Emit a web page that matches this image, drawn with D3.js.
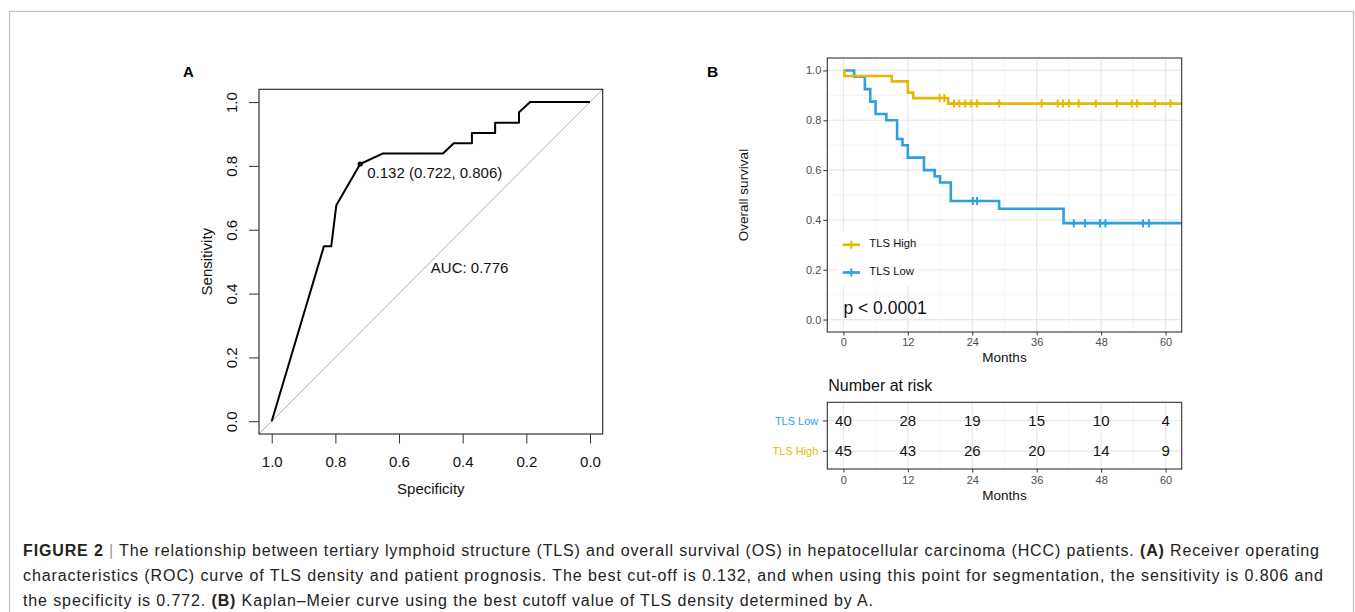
<!DOCTYPE html>
<html>
<head>
<meta charset="utf-8">
<script src="https://cdn.jsdelivr.net/npm/d3@7"></script>
<style>
  html, body { margin: 0; padding: 0; background: #fff; }
  svg { display: block; font-family: "Liberation Sans", Arial, sans-serif; }
</style>
</head>
<body>
<svg id="fig" width="1355" height="612"></svg>
<script>
/* ---------- data ---------- */
// panel A: ROC curve (specificity, sensitivity)
const rocSpec = [1.0, 0.836, 0.813, 0.797, 0.722, 0.650, 0.462, 0.428, 0.371, 0.371, 0.298, 0.298, 0.223, 0.223, 0.188, 0.0];
const rocSens = [0.0, 0.548, 0.548, 0.677, 0.806, 0.839, 0.839, 0.871, 0.871, 0.903, 0.903, 0.935, 0.935, 0.968, 1.0, 1.0];
const bestCut = { thr: 0.132, spec: 0.722, sens: 0.806 };
const aucValue = 0.776;
const rocTicks = [1.0, 0.8, 0.6, 0.4, 0.2, 0.0];

// panel B: Kaplan-Meier steps
const groups = ['TLS High', 'TLS Low'];
const groupColors = ['#E7B800', '#2E9FDF'];
const highTimes = [0, 0.2, 9, 12, 13, 19.5, 63];
const highSurv  = [1.0, 0.978, 0.956, 0.911, 0.889, 0.867, 0.867];
const lowTimes  = [0, 2, 4, 5, 6, 8, 10, 11, 12, 15, 17, 18, 20, 29, 41, 63];
const lowSurv   = [1.0, 0.975, 0.925, 0.875, 0.825, 0.80, 0.725, 0.70, 0.65, 0.60, 0.575, 0.55, 0.476, 0.445, 0.387, 0.387];
const highCensor = [17.9, 18.8, 20.6, 21.6, 22.7, 23.8, 24.9, 29.0, 36.9, 39.9, 40.9, 42.0, 43.8, 47.0, 50.9, 53.7, 54.7, 58.0, 60.9];
const lowCensor  = [24.1, 24.9, 42.9, 45.0, 47.8, 48.8, 55.8, 56.9];
const monthTicks = [0, 12, 24, 36, 48, 60];
const monthMinor = [6, 18, 30, 42, 54];
const survTicks = [0, 0.2, 0.4, 0.6, 0.8, 1.0];
const survMinor = [0.1, 0.3, 0.5, 0.7, 0.9];
const pText = 'p < 0.0001';

// number at risk
const riskRows = ['TLS Low', 'TLS High'];
const riskRowColors = ['#2E9FDF', '#E7B800'];
const riskLow  = [40, 28, 19, 15, 10, 4];
const riskHigh = [45, 43, 26, 20, 14, 9];

// caption lines: [text, bold, colour]
const captionLines = [
  [['FIGURE 2', true], [' | ', false, '#999'], ['The relationship between tertiary lymphoid structure (TLS) and overall survival (OS) in hepatocellular carcinoma (HCC) patients. ', false], ['(A)', true], [' Receiver operating', false]],
  [['characteristics (ROC) curve of TLS density and patient prognosis. The best cut-off is 0.132, and when using this point for segmentation, the sensitivity is 0.806 and', false]],
  [['the specificity is 0.772. ', false], ['(B)', true], [' Kaplan\u2013Meier curve using the best cutoff value of TLS density determined by A.', false]]
];
const captionWidths = [1296, 1300, 850];

/* ---------- frame ---------- */
const svg = d3.select('#fig');
svg.append('rect')
  .attr('x', 9.5).attr('y', 11.5).attr('width', 1344).attr('height', 700)
  .attr('fill', 'none').attr('stroke', '#c2c2c2').attr('stroke-width', 1.3);

/* ---------- panel A: ROC ---------- */
const A = { l: 259, r: 602.7, t: 89.3, b: 434 };
const xA = d3.scaleLinear().domain([1.04, -0.04]).range([A.l, A.r]);
const yA = d3.scaleLinear().domain([-0.04, 1.04]).range([A.b, A.t]);
const gA = svg.append('g');

svg.append('defs').append('clipPath').attr('id', 'clipA')
  .append('rect').attr('x', A.l).attr('y', A.t).attr('width', A.r - A.l).attr('height', A.b - A.t);

// identity line (sens = 1 - spec)
gA.append('line')
  .attr('clip-path', 'url(#clipA)')
  .attr('x1', xA(1.04)).attr('y1', yA(1 - 1.04))
  .attr('x2', xA(-0.04)).attr('y2', yA(1 + 0.04))
  .attr('stroke', '#b0b0b0').attr('stroke-width', 1);

gA.append('path')
  .datum(rocSpec.map((s, i) => [s, rocSens[i]]))
  .attr('d', d3.line().x(d => xA(d[0])).y(d => yA(d[1])))
  .attr('fill', 'none').attr('stroke', '#000').attr('stroke-width', 2).attr('stroke-linejoin', 'round');

gA.append('circle')
  .attr('cx', xA(bestCut.spec)).attr('cy', yA(bestCut.sens)).attr('r', 2.6).attr('fill', '#000');
gA.append('text')
  .attr('x', xA(bestCut.spec) + 7).attr('y', yA(bestCut.sens) + 14.5)
  .attr('font-size', 15).attr('fill', '#111')
  .text(`${bestCut.thr} (${bestCut.spec.toFixed(3)}, ${bestCut.sens.toFixed(3)})`);
gA.append('text')
  .attr('x', xA(0.5)).attr('y', yA(0.5) + 11.2)
  .attr('font-size', 15).attr('fill', '#111')
  .text('AUC: ' + aucValue.toFixed(3));

gA.append('rect')
  .attr('x', A.l).attr('y', A.t).attr('width', A.r - A.l).attr('height', A.b - A.t)
  .attr('fill', 'none').attr('stroke', '#222').attr('stroke-width', 1.1);

const fmt1 = d3.format('.1f');
const axA_x = gA.append('g').attr('transform', `translate(0,${A.b})`)
  .call(d3.axisBottom(xA).tickValues(rocTicks).tickSize(9.5).tickPadding(12.7).tickFormat(fmt1));
const axA_y = gA.append('g').attr('transform', `translate(${A.l},0)`)
  .call(d3.axisLeft(yA).tickValues(rocTicks.slice().reverse()).tickSize(10).tickFormat(fmt1));
[axA_x, axA_y].forEach(ax => {
  ax.select('.domain').remove();
  ax.selectAll('line').attr('stroke', '#333');
  ax.selectAll('text').attr('font-size', 15).attr('fill', '#111');
  ax.attr('font-family', null).attr('font-size', null);
});
axA_y.selectAll('text')
  .attr('x', null).attr('dy', null).attr('text-anchor', 'middle')
  .attr('transform', 'translate(-21.7,0) rotate(-90)');

gA.append('text').attr('x', (A.l + A.r) / 2).attr('y', 494)
  .attr('text-anchor', 'middle').attr('font-size', 15).attr('fill', '#111').text('Specificity');
gA.append('text').attr('transform', `translate(211.5,${(A.t + A.b) / 2}) rotate(-90)`)
  .attr('text-anchor', 'middle').attr('font-size', 15).attr('fill', '#111').text('Sensitivity');
gA.append('text').attr('x', 183).attr('y', 77).attr('font-size', 15).attr('font-weight', 'bold').text('A');

/* ---------- panel B: Kaplan-Meier ---------- */
const B = { l: 827.3, r: 1181.7, t: 58, b: 332 };
const xB = d3.scaleLinear().domain([-3, 63]).range([B.l, B.r]);
const yB = d3.scaleLinear().domain([-0.05, 1.05]).range([B.b, B.t]);
const gB = svg.append('g');

svg.select('defs').append('clipPath').attr('id', 'clipB')
  .append('rect').attr('x', B.l).attr('y', B.t).attr('width', B.r - B.l).attr('height', B.b - B.t);

// grid
const gridB = gB.append('g');
gridB.selectAll('.vmin').data(monthMinor).join('line')
  .attr('x1', d => xB(d)).attr('x2', d => xB(d)).attr('y1', B.t).attr('y2', B.b)
  .attr('stroke', '#efefef').attr('stroke-width', 0.7);
gridB.selectAll('.hmin').data(survMinor).join('line')
  .attr('y1', d => yB(d)).attr('y2', d => yB(d)).attr('x1', B.l).attr('x2', B.r)
  .attr('stroke', '#efefef').attr('stroke-width', 0.7);
gridB.selectAll('.vmaj').data(monthTicks).join('line')
  .attr('x1', d => xB(d)).attr('x2', d => xB(d)).attr('y1', B.t).attr('y2', B.b)
  .attr('stroke', '#e8e8e8').attr('stroke-width', 1.2);
gridB.selectAll('.hmaj').data(survTicks).join('line')
  .attr('y1', d => yB(d)).attr('y2', d => yB(d)).attr('x1', B.l).attr('x2', B.r)
  .attr('stroke', '#e8e8e8').attr('stroke-width', 1.2);

const stepLine = d3.line().curve(d3.curveStepAfter).x(d => xB(d[0])).y(d => yB(d[1]));
const series = [
  { times: highTimes, surv: highSurv, censor: highCensor, color: groupColors[0] },
  { times: lowTimes, surv: lowSurv, censor: lowCensor, color: groupColors[1] }
];
function survAt(s, t) {
  const i = d3.bisectRight(s.times, t) - 1;
  return s.surv[Math.max(0, i)];
}
const plus = (x, y, h) => `M${x - h},${y}h${2 * h}M${x},${y - h}v${2 * h}`;

const curves = gB.append('g').attr('clip-path', 'url(#clipB)');
// low first, high drawn on top
[series[1], series[0]].forEach(s => {
  curves.append('path')
    .datum(s.times.map((t, i) => [t, s.surv[i]]))
    .attr('d', stepLine)
    .attr('fill', 'none').attr('stroke', s.color).attr('stroke-width', 2.6);
  curves.append('path')
    .attr('d', s.censor.map(t => plus(xB(t), yB(survAt(s, t)), 4)).join(''))
    .attr('fill', 'none').attr('stroke', s.color).attr('stroke-width', 2);
});

// legend
const legY = [244.8, 272.5];
gB.append('rect').attr('x', 838).attr('y', 232).attr('width', 80).attr('height', 54).attr('fill', '#fff');
groups.forEach((g, i) => {
  gB.append('line').attr('x1', 842.7).attr('x2', 860).attr('y1', legY[i]).attr('y2', legY[i])
    .attr('stroke', groupColors[i]).attr('stroke-width', 2.6);
  gB.append('path').attr('d', plus(851.3, legY[i], 4))
    .attr('stroke', groupColors[i]).attr('stroke-width', 2);
  gB.append('text').attr('x', 869.3).attr('y', legY[i] + 2.5)
    .attr('font-size', 11.3).attr('fill', '#111').text(g);
});

gB.append('text').attr('x', xB(0)).attr('y', 314)
  .attr('font-size', 17.5).attr('fill', '#111').text(pText);

gB.append('rect')
  .attr('x', B.l).attr('y', B.t).attr('width', B.r - B.l).attr('height', B.b - B.t)
  .attr('fill', 'none').attr('stroke', '#333').attr('stroke-width', 1.1);

function styleGG(ax) {
  ax.select('.domain').remove();
  ax.attr('font-family', null).attr('font-size', null);
  ax.selectAll('line').attr('stroke', '#333').attr('stroke-width', 1);
  ax.selectAll('text').attr('font-size', 11).attr('fill', '#4d4d4d');
}
styleGG(gB.append('g').attr('transform', `translate(0,${B.b})`)
  .call(d3.axisBottom(xB).tickValues(monthTicks).tickSize(3.5).tickPadding(2.5)));
styleGG(gB.append('g').attr('transform', `translate(${B.l},0)`)
  .call(d3.axisLeft(yB).tickValues(survTicks).tickSize(4).tickPadding(2).tickFormat(fmt1)));

gB.append('text').attr('x', (B.l + B.r) / 2).attr('y', 362)
  .attr('text-anchor', 'middle').attr('font-size', 13.5).attr('fill', '#111').text('Months');
gB.append('text').attr('transform', `translate(748,${(B.t + B.b) / 2}) rotate(-90)`)
  .attr('text-anchor', 'middle').attr('font-size', 13.5).attr('fill', '#111').text('Overall survival');
gB.append('text').attr('x', 707).attr('y', 77).attr('font-size', 15.5).attr('font-weight', 'bold').text('B');

/* ---------- risk table ---------- */
const T = { l: B.l, r: B.r, t: 402.3, b: 469 };
const yT = d3.scalePoint().domain(riskRows).range([T.t, T.b]).padding(0.6);
const gT = svg.append('g');
gT.append('text').attr('x', 828.3).attr('y', 390.5).attr('font-size', 16).attr('fill', '#111').text('Number at risk');

gT.selectAll('.tvmin').data(monthMinor).join('line')
  .attr('x1', d => xB(d)).attr('x2', d => xB(d)).attr('y1', T.t).attr('y2', T.b)
  .attr('stroke', '#efefef').attr('stroke-width', 0.7);
gT.selectAll('.tvmaj').data(monthTicks).join('line')
  .attr('x1', d => xB(d)).attr('x2', d => xB(d)).attr('y1', T.t).attr('y2', T.b)
  .attr('stroke', '#e8e8e8').attr('stroke-width', 1.2);
gT.selectAll('.thmaj').data(riskRows).join('line')
  .attr('y1', d => yT(d)).attr('y2', d => yT(d)).attr('x1', T.l).attr('x2', T.r)
  .attr('stroke', '#e8e8e8').attr('stroke-width', 1.2);

[riskLow, riskHigh].forEach((vals, r) => {
  gT.selectAll(null).data(vals).join('text')
    .attr('x', (d, i) => xB(monthTicks[i])).attr('y', yT(riskRows[r]) + 5.5)
    .attr('text-anchor', 'middle').attr('font-size', 15).attr('fill', '#111')
    .text(d => d);
});

gT.append('rect')
  .attr('x', T.l).attr('y', T.t).attr('width', T.r - T.l).attr('height', T.b - T.t)
  .attr('fill', 'none').attr('stroke', '#333').attr('stroke-width', 1.1);

styleGG(gT.append('g').attr('transform', `translate(0,${T.b})`)
  .call(d3.axisBottom(xB).tickValues(monthTicks).tickSize(3.5).tickPadding(3.5)));
const axTy = gT.append('g').attr('transform', `translate(${T.l},0)`)
  .call(d3.axisLeft(yT).tickSize(4.5).tickPadding(4.5));
styleGG(axTy);
axTy.selectAll('text').attr('fill', d => riskRowColors[riskRows.indexOf(d)]);

gT.append('text').attr('x', (T.l + T.r) / 2).attr('y', 500)
  .attr('text-anchor', 'middle').attr('font-size', 13.5).attr('fill', '#111').text('Months');

/* ---------- caption ---------- */
const capBase = [556, 581, 606];
captionLines.forEach((parts, i) => {
  const t = svg.append('text').attr('x', 23).attr('y', capBase[i])
    .attr('font-size', 16).attr('fill', '#222')
    .attr('textLength', captionWidths[i]).attr('lengthAdjust', 'spacing');
  parts.forEach(p => {
    t.append('tspan').attr('font-weight', p[1] ? 'bold' : null)
      .attr('fill', p[2] || null).text(p[0]);
  });
});
</script>
</body>
</html>
